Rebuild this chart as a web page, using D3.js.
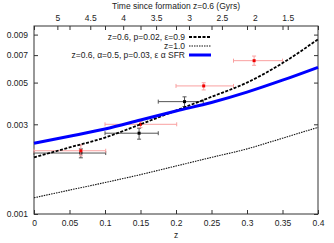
<!DOCTYPE html>
<html>
<head>
<meta charset="utf-8">
<script src="https://cdn.jsdelivr.net/npm/d3@7"></script>
<style>
  body { margin: 0; background: #fff; }
  text { font-family: "Liberation Sans", Arial, sans-serif; font-size: 8.5px; fill: #222; }
</style>
</head>
<body>
<div id="chart"></div>
<script>
// model curves
const zGrid = [0, 0.05, 0.1, 0.15, 0.2, 0.25, 0.3, 0.35, 0.4];
const modelEps09 = [0.00200, 0.00226, 0.00255, 0.00300, 0.00355, 0.00420, 0.00500, 0.00635, 0.00850];
const modelZ1 = [0.00122, 0.00134, 0.00147, 0.00162, 0.00180, 0.00200, 0.00222, 0.00253, 0.00289];
const modelSfr = [0.00238, 0.00259, 0.00283, 0.00316, 0.00353, 0.00392, 0.00445, 0.00515, 0.00603];

// red measurements
const redZ = [0.066, 0.150, 0.239, 0.310];
const redVal = [0.00217, 0.00300, 0.00480, 0.00654];
const redZLo = [0.0, 0.1, 0.2, 0.281];
const redZHi = [0.101, 0.201, 0.281, 0.35];
const redLo = [0.00204, 0.00288, 0.00457, 0.00618];
const redHi = [0.00233, 0.00310, 0.00499, 0.00692];

// black measurements
const blackZ = [0.066, 0.148, 0.212];
const blackVal = [0.00211, 0.00269, 0.00396];
const blackZLo = [0.0, 0.1, 0.175];
const blackZHi = [0.101, 0.175, 0.2385];
const blackLo = [0.00199, 0.00250, 0.00373];
const blackHi = [0.00222, 0.00286, 0.00420];

const yTicks = [0.001, 0.003, 0.005, 0.007, 0.009];
const xTicks = [0, 0.05, 0.1, 0.15, 0.2, 0.25, 0.3, 0.35, 0.4];
const timeTicks = [5, 4.5, 4, 3.5, 3, 2.5, 2, 1.5];

const legendLabels = ["z=0.6, p=0.02, \u03b5=0.9", "z=1.0", "z=0.6, \u03b1=0.5, p=0.03, \u03b5 \u03b1 SFR"];

const w = 334, h = 243;
const plotLeft = 34, plotRight = 318, plotTop = 26, plotBottom = 214;

const svg = d3.select("#chart").append("svg")
  .attr("width", w)
  .attr("height", h);

const x = d3.scaleLinear().domain([0, 0.4]).range([plotLeft, plotRight]);
const y = d3.scaleLog().domain([0.001, 0.01]).range([plotBottom, plotTop]);
const xTime = d3.scaleLinear().domain([5.355, 1.04]).range([plotLeft, plotRight]);

function cleanAxis(g) {
  g.select(".domain").remove();
  g.selectAll(".tick line").attr("stroke", "#333");
  g.selectAll(".tick text").attr("fill", "#222").style("font-size", "8.5px")
    .style("font-family", '"Liberation Sans", Arial, sans-serif');
}

svg.append("g")
  .attr("transform", `translate(0,${plotBottom})`)
  .call(d3.axisBottom(x).tickValues(xTicks).tickSize(-4).tickPadding(6).tickFormat(d3.format("~g")))
  .call(cleanAxis);

svg.append("g")
  .attr("transform", `translate(0,${plotTop})`)
  .call(d3.axisTop(x).tickValues(xTicks).tickSize(-4).tickFormat(""))
  .call(cleanAxis);

svg.append("g")
  .attr("transform", `translate(0,${plotTop})`)
  .call(d3.axisTop(xTime).tickValues(timeTicks).tickSize(-4).tickPadding(5).tickFormat(d3.format("~g")))
  .call(cleanAxis);

svg.append("g")
  .attr("transform", `translate(${plotLeft},0)`)
  .call(d3.axisLeft(y).tickValues(yTicks).tickSize(-4).tickPadding(6).tickFormat(d3.format(".3f")))
  .call(cleanAxis);

svg.append("g")
  .attr("transform", `translate(${plotRight},0)`)
  .call(d3.axisRight(y).tickValues(yTicks).tickSize(-4).tickFormat(""))
  .call(cleanAxis);

svg.append("rect")
  .attr("x", plotLeft).attr("y", plotTop)
  .attr("width", plotRight - plotLeft).attr("height", plotBottom - plotTop)
  .attr("fill", "none").attr("stroke", "#333").attr("stroke-width", 1);

// axis titles
svg.append("text")
  .attr("x", (plotLeft + plotRight) / 2).attr("y", 238)
  .attr("text-anchor", "middle")
  .text("z");
svg.append("text")
  .attr("x", (plotLeft + plotRight) / 2).attr("y", 9)
  .attr("text-anchor", "middle")
  .text("Time since formation z=0.6 (Gyrs)");

// error bars + points
function drawPoints(zs, vals, zLo, zHi, lo, hi, barColor, dotColor) {
  const g = svg.append("g");
  const cap = 2;
  zs.forEach(function(z, i) {
    const cx = x(z), cy = y(vals[i]);
    g.append("line").attr("x1", x(zLo[i])).attr("x2", x(zHi[i])).attr("y1", cy).attr("y2", cy)
      .attr("stroke", barColor).attr("stroke-width", 1);
    g.append("line").attr("x1", x(zLo[i])).attr("x2", x(zLo[i])).attr("y1", cy - cap).attr("y2", cy + cap)
      .attr("stroke", barColor);
    g.append("line").attr("x1", x(zHi[i])).attr("x2", x(zHi[i])).attr("y1", cy - cap).attr("y2", cy + cap)
      .attr("stroke", barColor);
    g.append("line").attr("x1", cx).attr("x2", cx).attr("y1", y(lo[i])).attr("y2", y(hi[i]))
      .attr("stroke", barColor);
    g.append("line").attr("x1", cx - cap).attr("x2", cx + cap).attr("y1", y(lo[i])).attr("y2", y(lo[i]))
      .attr("stroke", barColor);
    g.append("line").attr("x1", cx - cap).attr("x2", cx + cap).attr("y1", y(hi[i])).attr("y2", y(hi[i]))
      .attr("stroke", barColor);
    g.append("rect").attr("x", cx - 1.5).attr("y", cy - 1.5).attr("width", 3).attr("height", 3)
      .attr("fill", dotColor);
  });
}
drawPoints(blackZ, blackVal, blackZLo, blackZHi, blackLo, blackHi, "#555", "#000");
drawPoints(redZ, redVal, redZLo, redZHi, redLo, redHi, "#f9a0a0", "#f00000");

// curves
const line = d3.line()
  .x(function(d) { return x(d[0]); })
  .y(function(d) { return y(d[1]); })
  .curve(d3.curveMonotoneX);

const styles = [
  { color: "#000", width: 1.8, dash: "3,1.5" },
  { color: "#111", width: 1.1, dash: "1.5,1" },
  { color: "#0000ff", width: 3, dash: null }
];
const series = [modelEps09, modelZ1, modelSfr];

series.forEach(function(vals, k) {
  svg.append("path")
    .datum(zGrid.map(function(z, i) { return [z, vals[i]]; }))
    .attr("d", line)
    .attr("fill", "none")
    .attr("stroke", styles[k].color)
    .attr("stroke-width", styles[k].width)
    .attr("stroke-dasharray", styles[k].dash);
});

// legend
const legendY = [37, 46, 55];
legendLabels.forEach(function(label, k) {
  svg.append("text")
    .attr("x", 185).attr("y", legendY[k]).attr("dy", "0.35em")
    .attr("text-anchor", "end")
    .text(label);
  svg.append("line")
    .attr("x1", 189).attr("x2", 211).attr("y1", legendY[k]).attr("y2", legendY[k])
    .attr("stroke", styles[k].color)
    .attr("stroke-width", styles[k].width)
    .attr("stroke-dasharray", styles[k].dash);
});
</script>
</body>
</html>
